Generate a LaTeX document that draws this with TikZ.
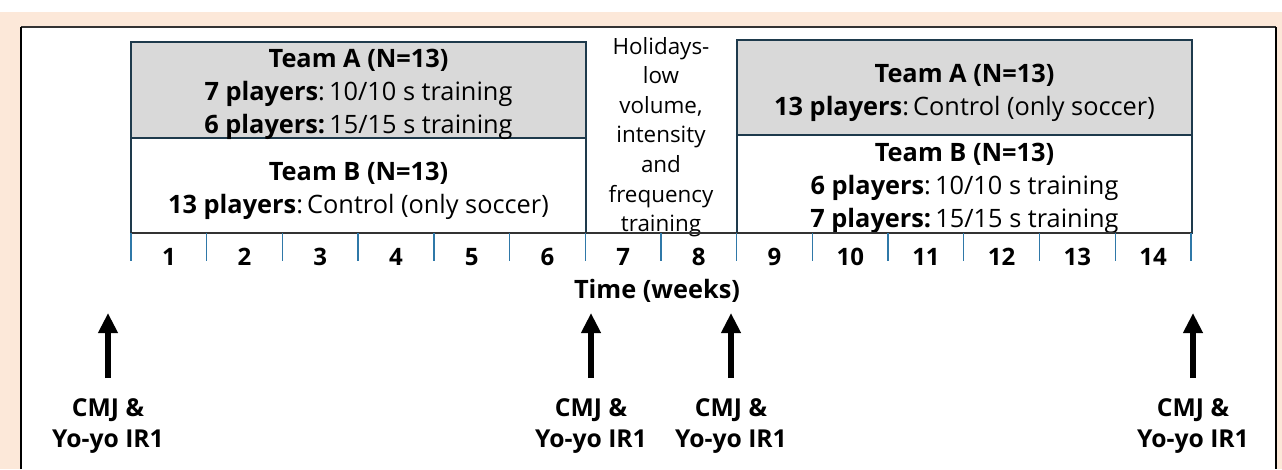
\documentclass[tikz,border=0pt]{standalone}
\usepackage{fontspec}
\setmainfont{Open Sans}
\usetikzlibrary{arrows.meta}
\definecolor{peach}{HTML}{FCE8D9}
\definecolor{boxline}{HTML}{1E3A4C}
\definecolor{tickc}{HTML}{2F78A8}
\definecolor{greyfill}{HTML}{D9D9D9}
\definecolor{axisc}{HTML}{333333}
\tikzset{
  boxtxt/.style={align=center, font=\fontsize{19}{24.8}\selectfont, inner sep=0pt},
  holtxt/.style={align=center, font=\fontsize{16.8}{22.2}\selectfont, inner sep=0pt},
  wk/.style={font=\bfseries\fontsize{18}{20}\selectfont, inner sep=0pt},
  meas/.style={align=center, font=\bfseries\fontsize{18.5}{23}\selectfont, inner sep=0pt},
  arr/.style={line width=3.8pt, -{Triangle[length=15pt,width=14pt]}},
  boxframe/.style={draw=boxline, line width=1.2pt},
}
\begin{document}
\begin{tikzpicture}[x=0.75pt,y=-0.75pt]
\useasboundingbox (0,0) rectangle (1282,469);
\fill[white] (0,0) rectangle (1282,469);
\fill[peach] (0,12) rectangle (1282,469);
\fill[white] (21,27) rectangle (1276,469);
\draw[axisc, line width=0.8pt] (21,27) -- (1276,27);
\draw[black, line width=1.6pt] (21,469) -- (21,27);
\draw[black, line width=1.6pt] (1276,27) -- (1276,469);
% left box
\fill[greyfill] (131,42) rectangle (586,138);
\draw[boxframe] (131,42) rectangle (586,233);
\draw[boxframe] (131,138) -- (586,138);
% right box
\fill[greyfill] (737,40) rectangle (1192,135);
\draw[boxframe] (737,40) rectangle (1192,233);
\draw[boxframe] (737,135) -- (1192,135);
% texts
\node[boxtxt] (la) at (358.5,94) {\textbf{Team A (N=13)}\\\textbf{7 players}:\,10/10 s training\\\textbf{6 players:}\,15/15 s training};
\node[boxtxt] (lb) at (358.5,191) {\textbf{Team B (N=13)}\\\textbf{13 players}:\,Control (only soccer)};
\node[boxtxt] (ra) at (964.5,92.5) {\textbf{Team A (N=13)}\\\textbf{13 players}:\,Control (only soccer)};
\node[boxtxt] (rb) at (964.5,188.5) {\textbf{Team B (N=13)}\\\textbf{6 players}:\,10/10 s training\\\textbf{7 players:}\,15/15 s training};
\node[holtxt] (hol) at (661,137) {Holidays-\\low\\volume,\\intensity\\and\\frequency\\training};
% axis
\draw[axisc, line width=1.2pt] (131,233) -- (1192,233);
\foreach \i in {0,...,14} {
  \draw[tickc, line width=1pt] ({131+\i*75.71},233) -- ({131+\i*75.71},261);
}
\foreach \i in {1,...,14} {
  \node[wk] (w\i) at ({131+(\i-0.5)*75.71},257) {\i};
}
\node[wk, font=\bfseries\fontsize{19}{21}\selectfont] (time) at (657,291) {Time (weeks)};
% measurements
\foreach \n/\x in {1/108,2/591,3/731,4/1193} {
  \coordinate (b\n) at (\x,378);
  \coordinate (t\n) at (\x,313);
  \draw[arr] (b\n) -- (t\n);
  \node[meas] (m\n) at (\x,426) {CMJ \&\\Yo-yo IR1};
}
\end{tikzpicture}
\end{document}
